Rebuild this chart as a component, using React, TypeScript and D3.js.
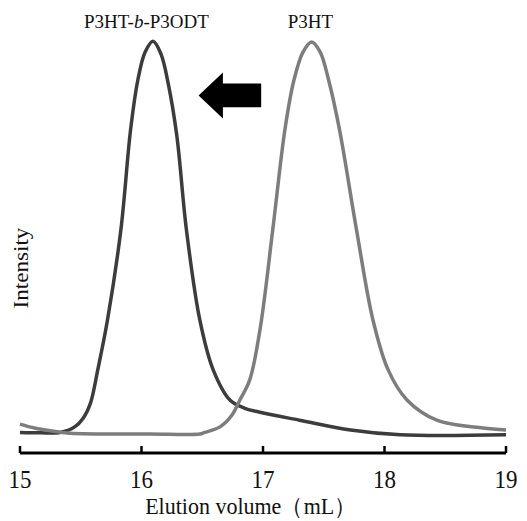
import * as d3 from 'd3'

// GPC traces (elution volume in mL, intensity in arbitrary units)
const blockVol = [15.0, 15.17, 15.33, 15.45, 15.52, 15.58, 15.64, 15.72, 15.83, 15.91, 15.97, 16.03, 16.095, 16.16, 16.22, 16.29, 16.37, 16.48, 16.59, 16.73, 16.85, 16.975, 17.3, 17.72, 18.13, 19.0]
const blockInt = [0.9, 0.8, 0.9, 2.3, 4.5, 8.3, 16.7, 29.3, 52, 77.3, 89.9, 97.0, 99.7, 96.5, 89.0, 76.0, 52, 29.3, 16.7, 9.0, 7.0, 6.0, 4.0, 1.5, 0.3, 0.3]

const homoVol = [15.0, 15.12, 15.25, 15.41, 16.07, 16.48, 16.52, 16.646, 16.745, 16.81, 16.89, 16.975, 17.08, 17.18, 17.255, 17.33, 17.4, 17.47, 17.54, 17.63, 17.77, 17.905, 18.03, 18.185, 18.43, 18.81, 19.0]
const homoInt = [3.0, 2.0, 1.3, 0.7, 0.5, 0.5, 0.9, 2.3, 5.3, 9.1, 14.1, 26.8, 52, 77.3, 89.9, 97.0, 99.5, 97.0, 89.9, 77.3, 52, 29.3, 16.7, 9.1, 4.0, 2.0, 1.5]

const series = [
  { name: 'P3HT-b-P3ODT', vol: blockVol, int: blockInt, color: '#3c3c3c', labelX: 16.04 },
  { name: 'P3HT', vol: homoVol, int: homoInt, color: '#7d7d7d', labelX: 17.39 },
]

const xTicks = [15, 16, 17, 18, 19]

// shift arrow (data units)
const arrowTip = 16.47
const arrowHead = 16.67
const arrowEnd = 16.985
const arrowMid = 86
const arrowHalfHead = 5.8
const arrowHalfShaft = 3.0

const serif = '"Liberation Serif", "Times New Roman", serif'

export default function App() {
  const width = 527
  const height = 521
  const x = d3.scaleLinear([15, 19], [20, 506])
  const y = d3.scaleLinear([0, 100], [436, 40])
  const axisY = 453

  const line = d3.line<[number, number]>()
    .x(d => x(d[0]))
    .y(d => y(d[1]))
    .curve(d3.curveCatmullRom.alpha(0.5))

  const arrow = [
    [arrowTip, arrowMid],
    [arrowHead, arrowMid + arrowHalfHead],
    [arrowHead, arrowMid + arrowHalfShaft],
    [arrowEnd, arrowMid + arrowHalfShaft],
    [arrowEnd, arrowMid - arrowHalfShaft],
    [arrowHead, arrowMid - arrowHalfShaft],
    [arrowHead, arrowMid - arrowHalfHead],
  ].map(p => `${x(p[0])},${y(p[1])}`).join(' ')

  return (
    <svg width={width} height={height} style={{ position: 'absolute', left: 0, top: 0, background: '#fff' }}>
      {series.map(s => (
        <path
          key={s.name}
          d={line(s.vol.map((v, i) => [v, s.int[i]] as [number, number])) || ''}
          fill="none"
          stroke={s.color}
          strokeWidth={3.5}
          strokeLinejoin="round"
        />
      ))}

      {/* series labels */}
      <text x={x(series[0].labelX)} y={28} textAnchor="middle" fontFamily={serif} fontSize={19} fill="#111">
        P3HT-<tspan fontStyle="italic">b</tspan>-P3ODT
      </text>
      <text x={x(series[1].labelX)} y={28} textAnchor="middle" fontFamily={serif} fontSize={19} fill="#111">
        {series[1].name}
      </text>

      <polygon points={arrow} fill="#000" />

      {/* x axis */}
      <line x1={x(15)} x2={x(19)} y1={axisY} y2={axisY} stroke="#000" strokeWidth={3} />
      {xTicks.map(t => (
        <g key={t}>
          <line x1={x(t)} x2={x(t)} y1={axisY} y2={axisY - 7} stroke="#000" strokeWidth={2.5} />
          <text
            transform={`translate(${x(t)},488) scale(1,1.1)`}
            textAnchor="middle"
            fontFamily={serif}
            fontSize={23}
            fill="#111"
          >
            {t}
          </text>
        </g>
      ))}
      <text
        transform={`translate(${x(16.9)},514) scale(1,1.06)`}
        textAnchor="middle"
        fontFamily={serif}
        fontSize={22}
        fill="#111"
      >
        Elution volume（mL）
      </text>

      {/* y label */}
      <text
        transform="translate(28,268) rotate(-90) scale(1.05,1)"
        textAnchor="middle"
        fontFamily={serif}
        fontSize={22}
        fill="#111"
      >
        Intensity
      </text>
    </svg>
  )
}
